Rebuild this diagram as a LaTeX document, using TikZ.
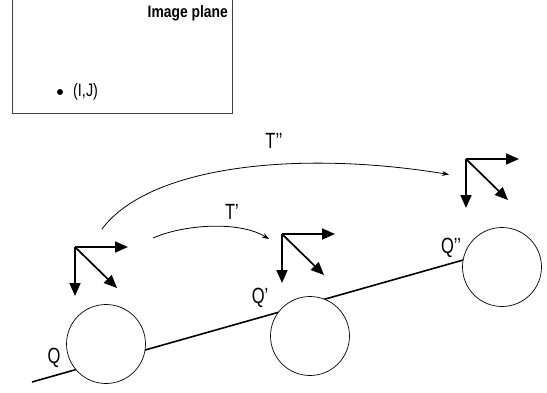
\documentclass[tikz,border=0pt]{standalone}
\usepackage{fontspec}
\setmainfont{Liberation Sans}
\usetikzlibrary{arrows.meta,calc}
\tikzset{
  farrow/.style={line width=1.7pt,-{Triangle[length=13pt,width=11pt]}},
  arcarrow/.style={line width=0.8pt,-{Stealth[length=7pt,width=5pt]}},
  ball/.style={circle,draw,line width=0.7pt,fill=white,minimum size=79pt,inner sep=0pt},
  lbl/.style={inner sep=0pt,font=\fontsize{22}{24}\selectfont},
  boxline/.style={line width=0.8pt,draw=black!75}
}
\begin{document}
\begin{tikzpicture}[x=1pt,y=-1pt]
\useasboundingbox (0,0) rectangle (547,392);
% image plane
\coordinate (bl) at (12,0);
\coordinate (br) at (232,0);
\draw[boxline] (bl) -- (12,113) -- (232,113) -- (br);
\node[anchor=base east,inner sep=0pt,font=\fontsize{16.5}{18}\selectfont\bfseries] (title) at (228,17) {\scalebox{0.84}[1]{Image plane}};
\node[circle,fill=black,inner sep=0pt,minimum size=6pt] (dot) at (60,92) {};
\node[anchor=west,inner sep=0pt,font=\fontsize{18}{20}\selectfont] (ij) at (73,92) {\scalebox{0.8}[1]{(I,J)}};
% trajectory line
\coordinate (ls) at (32,382);
\coordinate (le) at (465,259.5);
\draw[line width=1.6pt] (ls) -- (le);
% balls
\node[ball] (c1) at (106,344) {};
\node[ball] (c2) at (310,336) {};
\node[ball] (c3) at (502,267) {};
% frames
\foreach \n/\x/\y in {1/75/247, 2/282/234, 3/466/159}{
  \coordinate (f\n) at (\x,\y);
  \coordinate (f\n h) at (\x+53,\y);
  \coordinate (f\n v) at (\x,\y+49);
  \coordinate (f\n d) at (\x+42,\y+41);
  \draw[farrow] (f\n) -- (f\n h);
  \draw[farrow] (f\n) -- (f\n v);
  \draw[farrow] (f\n) -- (f\n d);
}
% transformation arcs
\coordinate (a1s) at (102,229);
\coordinate (a1e) at (449,174.5);
\draw[arcarrow] (a1s) .. controls (150,165) and (300,150) .. (a1e);
\coordinate (a2s) at (153,238);
\coordinate (a2e) at (269,239);
\draw[arcarrow] (a2s) .. controls (185,224) and (240,221) .. (a2e);
% labels
\node[lbl] (lTT) at (274,141) {\scalebox{0.75}[1]{T’’}};
\node[lbl] (lT) at (232,212) {\scalebox{0.75}[1]{T’}};
\node[lbl] (lQ) at (54,358) {\scalebox{0.75}[1]{Q}};
\node[lbl] (lQp) at (260,298) {\scalebox{0.75}[1]{Q’}};
\node[lbl] (lQpp) at (451,248) {\scalebox{0.75}[1]{Q’’}};
\end{tikzpicture}
\end{document}
